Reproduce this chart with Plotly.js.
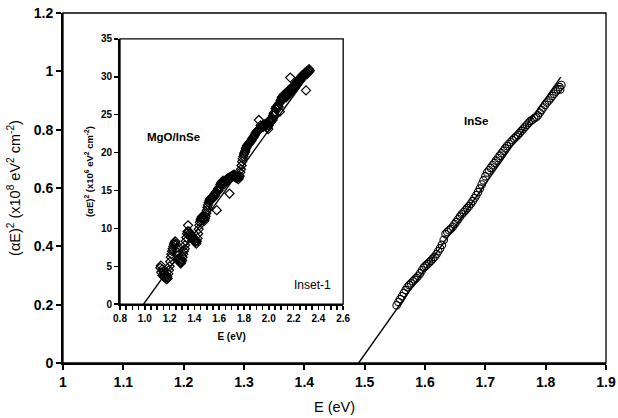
<!DOCTYPE html>
<html>
<head>
<meta charset="utf-8">
<script src="https://cdn.plot.ly/plotly-3.0.1.min.js"></script>
<style>html,body{margin:0;padding:0;background:#fff}#chart{width:618px;height:418px}</style>
</head>
<body>
<div id="chart"></div>
<script>
// Main series: InSe
const mainE = [1.553,1.556,1.559,1.562,1.565,1.568,1.571,1.574,1.577,1.580,1.583,1.586,1.589,1.592,1.595,1.598,1.601,1.604,1.607,1.610,1.613,1.616,1.619,1.622,1.625,1.628,1.631,1.634,1.637,1.640,1.643,1.646,1.649,1.652,1.655,1.658,1.661,1.664,1.667,1.670,1.673,1.676,1.679,1.682,1.685,1.688,1.691,1.694,1.697,1.700,1.703,1.706,1.709,1.712,1.715,1.718,1.721,1.724,1.727,1.730,1.733,1.736,1.739,1.742,1.745,1.748,1.751,1.754,1.757,1.760,1.763,1.766,1.769,1.772,1.775,1.778,1.781,1.784,1.787,1.790,1.793,1.796,1.799,1.802,1.805,1.808,1.811,1.814,1.817,1.820,1.823,1.826,1.824];
const mainY = [0.198,0.209,0.219,0.229,0.240,0.250,0.260,0.267,0.273,0.280,0.286,0.292,0.299,0.308,0.318,0.327,0.333,0.339,0.345,0.351,0.358,0.364,0.373,0.383,0.393,0.405,0.422,0.442,0.449,0.455,0.460,0.467,0.476,0.484,0.493,0.502,0.510,0.517,0.524,0.531,0.538,0.546,0.555,0.565,0.575,0.586,0.598,0.612,0.626,0.640,0.653,0.661,0.669,0.678,0.686,0.694,0.703,0.711,0.719,0.728,0.736,0.744,0.751,0.757,0.764,0.770,0.776,0.782,0.789,0.796,0.803,0.810,0.817,0.824,0.830,0.834,0.839,0.843,0.849,0.858,0.867,0.876,0.885,0.893,0.900,0.908,0.916,0.923,0.931,0.938,0.946,0.953,0.938];
const mainFitE = [1.490, 1.825];
const mainFitY = [0, 0.980];

// Inset series: MgO/InSe
const insetE = [1.125,1.130,1.132,1.140,1.142,1.150,1.155,1.160,1.165,1.170,1.175,1.180,1.185,1.190,1.195,
1.200,1.205,1.210,1.215,1.220,1.225,1.230,1.235,1.240,1.245,1.250,1.255,1.260,
1.265,1.270,1.275,1.280,1.285,1.290,1.295,1.300,1.305,1.310,1.315,1.322,
1.325,1.330,1.335,1.340,1.345,1.349,1.355,1.360,1.365,1.370,1.375,1.380,1.385,1.390,1.395,1.400,1.405,1.410,1.415,1.420,
1.425,1.430,1.435,1.440,1.445,1.450,1.455,1.460,1.465,1.470,1.475,1.480,1.485,1.490,1.495,1.500,1.505,1.510,1.515,1.520,
1.525,1.530,1.535,1.540,1.545,1.550,1.555,1.560,1.565,1.570,1.580,1.575,1.585,1.590,1.595,1.600,1.605,1.610,1.615,1.620,
1.625,1.630,1.635,1.640,1.645,1.650,1.655,1.660,1.665,1.670,1.683,1.675,1.680,1.685,1.690,1.695,1.700,1.705,1.710,1.715,
1.720,1.725,1.730,1.735,1.740,1.745,1.750,1.755,1.760,1.765,1.770,1.775,1.780,1.785,1.790,1.795,1.800,1.805,1.810,1.815,
1.820,1.825,1.830,1.835,1.840,1.845,1.850,1.855,1.860,1.865,1.870,1.875,1.880,1.885,1.890,1.895,1.900,1.905,1.910,1.915,
1.920,1.925,1.930,1.934,1.940,1.945,1.950,1.955,1.960,1.965,1.970,1.975,1.980,1.985,1.990,1.995,2.000,2.005,2.010,2.015,
2.020,2.025,2.030,2.035,2.040,2.045,2.050,2.055,2.060,2.065,2.070,2.075,2.080,2.085,2.090,2.095,2.100,2.105,2.110,2.115,
2.120,2.125,2.130,2.135,2.140,2.145,2.150,2.155,2.160,2.165,2.173,2.175,2.180,2.185,2.190,2.195,2.200,2.205,2.210,2.215,
2.220,2.225,2.235,2.240,2.245,2.250,2.255,2.260,2.265,2.270,2.275,2.280,2.285,2.290,2.295,2.300,2.305,2.310,2.315,2.320,2.325,2.330];
const insetY = [4.8,5.1,4.2,4.6,3.8,4.3,3.6,4.0,3.5,3.9,3.3,3.6,3.4,4.0,4.5,
5.0,5.6,6.2,6.6,7.0,7.3,7.6,7.9,8.1,8.3,7.9,7.4,6.9,
6.4,6.0,5.8,5.6,5.5,5.4,5.6,5.8,6.2,6.6,7.0,7.3,
7.8,8.3,8.8,9.3,9.6,10.4,9.6,9.3,9.0,9.2,8.8,9.0,8.6,8.8,8.4,8.6,8.2,8.3,8.0,8.3,
8.7,9.3,9.9,10.4,10.8,11.1,11.3,11.5,11.6,11.4,11.2,11.0,11.3,11.6,12.0,12.4,12.8,13.1,13.4,13.6,
13.8,13.9,14.0,14.1,13.9,14.0,14.2,14.5,14.3,14.6,12.4,14.8,15.0,15.2,15.0,15.3,15.5,15.8,16.0,15.9,
16.1,16.3,16.0,15.8,16.1,16.3,16.2,16.5,16.4,16.6,14.6,16.5,16.7,16.6,16.8,16.7,16.9,16.8,17.0,16.9,
17.1,16.8,17.0,16.7,16.9,16.6,16.8,16.5,16.7,16.9,17.4,17.8,18.3,18.8,19.2,19.5,19.8,20.0,20.2,20.5,
20.7,20.9,21.0,21.1,21.2,21.3,21.4,21.5,21.6,21.8,21.9,22.0,22.1,22.3,22.4,22.6,22.7,22.8,22.9,23.0,
24.3,23.1,23.2,23.6,23.3,23.4,23.5,23.4,23.6,23.7,23.5,23.8,23.6,23.9,23.3,23.1,23.6,24.0,24.2,24.0,
24.4,24.6,24.3,24.9,25.2,25.0,25.4,25.8,26.0,25.7,26.1,26.3,26.0,26.5,25.4,26.8,27.0,27.3,27.1,27.4,
27.6,27.2,27.5,27.8,27.3,27.6,27.9,28.1,27.7,28.3,29.9,28.0,28.4,28.2,28.6,28.3,28.8,28.5,29.0,28.7,
29.2,29.0,29.3,29.6,29.4,29.8,29.6,30.0,29.8,30.2,30.0,30.3,30.1,30.5,30.3,28.2,30.6,30.4,30.8,30.6,31.0,30.8];
const insetFitE = [0.99, 2.34];
const insetFitY = [0, 30.7];

const FONT = 'Liberation Sans, Arial, sans-serif';

const traces = [
  {x: mainFitE, y: mainFitY, mode: 'lines', line: {color: '#000', width: 1.4}, xaxis: 'x', yaxis: 'y', showlegend: false, hoverinfo: 'skip'},
  {x: mainE, y: mainY, mode: 'markers', marker: {symbol: 'circle-open', size: 7.5, color: '#000', line: {width: 1.1, color: '#000'}}, xaxis: 'x', yaxis: 'y', showlegend: false},
  {x: insetFitE, y: insetFitY, mode: 'lines', line: {color: '#000', width: 1.4}, xaxis: 'x2', yaxis: 'y2', showlegend: false, hoverinfo: 'skip'},
  {x: insetE, y: insetY, mode: 'markers', marker: {symbol: 'diamond-open', size: 7, color: '#000', line: {width: 1.2, color: '#000'}}, xaxis: 'x2', yaxis: 'y2', showlegend: false}
];

const layout = {
  width: 618, height: 418,
  margin: {l: 63, r: 12, t: 13, b: 55},
  paper_bgcolor: '#fff', plot_bgcolor: '#fff',
  font: {family: FONT, color: '#000'},
  showlegend: false,
  xaxis: {
    range: [1, 1.9], tickmode: 'linear', tick0: 1, dtick: 0.1,
    showgrid: false, zeroline: false, showline: true, linecolor: '#000', linewidth: 2,
    ticks: 'outside', ticklen: 5, tickwidth: 2, tickcolor: '#000',
    tickfont: {size: 14, family: FONT, weight: 'bold'},
    title: {text: 'E (eV)', font: {size: 14.5, family: FONT}, standoff: 13}
  },
  yaxis: {
    range: [0, 1.2], dtick: 0.2, tickmode: 'linear', tick0: 0,
    showgrid: false, zeroline: false, showline: true, linecolor: '#000', linewidth: 2,
    ticks: 'outside', ticklen: 5, tickwidth: 2, tickcolor: '#000',
    tickfont: {size: 14, family: FONT, weight: 'bold'},
    title: {text: '(\u03b1E)<sup>2</sup> (x10<sup>8</sup> eV<sup>2</sup> cm<sup>-2</sup>)', font: {size: 14.5, family: FONT}, standoff: 10}
  },
  xaxis2: {
    domain: [0.105, 0.516], anchor: 'y2', range: [0.8, 2.6],
    tickmode: 'linear', tick0: 0.8, dtick: 0.2, tickformat: '.1f',
    showgrid: false, zeroline: false, showline: true, linecolor: '#000', linewidth: 2,
    ticks: 'outside', ticklen: 4, tickwidth: 1.5, tickcolor: '#000',
    minor: {dtick: 0.05, tick0: 0.8, ticks: 'outside', ticklen: 4, tickwidth: 1.5, tickcolor: '#000', showgrid: false},
    tickfont: {size: 10, family: FONT, weight: 'bold'},
    title: {text: 'E (eV)', font: {size: 10, family: FONT, weight: 'bold'}, standoff: 10}
  },
  yaxis2: {
    domain: [0.168, 0.926], anchor: 'x2', range: [0, 35], tickmode: 'linear', tick0: 0, dtick: 5,
    showgrid: false, zeroline: false, showline: true, linecolor: '#000', linewidth: 2,
    ticks: 'outside', ticklen: 4, tickwidth: 1.5, tickcolor: '#000',
    tickfont: {size: 10, family: FONT, weight: 'bold'},
    title: {text: '(\u03b1E)<sup>2</sup> (x10<sup>6</sup> eV<sup>2</sup> cm<sup>-2</sup>)', font: {size: 9.5, family: FONT, weight: 'bold'}, standoff: 6}
  },
  shapes: [
    {type: 'rect', xref: 'paper', yref: 'paper', x0: 0, x1: 1, y0: 0, y1: 1, line: {color: '#000', width: 1.3}},
    {type: 'rect', xref: 'x2 domain', yref: 'y2 domain', x0: 0, x1: 1, y0: 0, y1: 1, line: {color: '#000', width: 1.3}}
  ],
  annotations: [
    {text: 'MgO/InSe', xref: 'x2', yref: 'y2', x: 1.23, y: 22, showarrow: false, font: {size: 11.5, family: FONT, weight: 'bold'}},
    {text: 'Inset-1', xref: 'x2', yref: 'y2', x: 2.35, y: 2.5, showarrow: false, font: {size: 12, family: FONT}},
    {text: 'InSe', xref: 'x', yref: 'y', x: 1.684, y: 0.83, showarrow: false, font: {size: 11.5, family: FONT, weight: 'bold'}}
  ]
};

Plotly.newPlot('chart', traces, layout, {displayModeBar: false, staticPlot: true});
</script>
</body>
</html>
